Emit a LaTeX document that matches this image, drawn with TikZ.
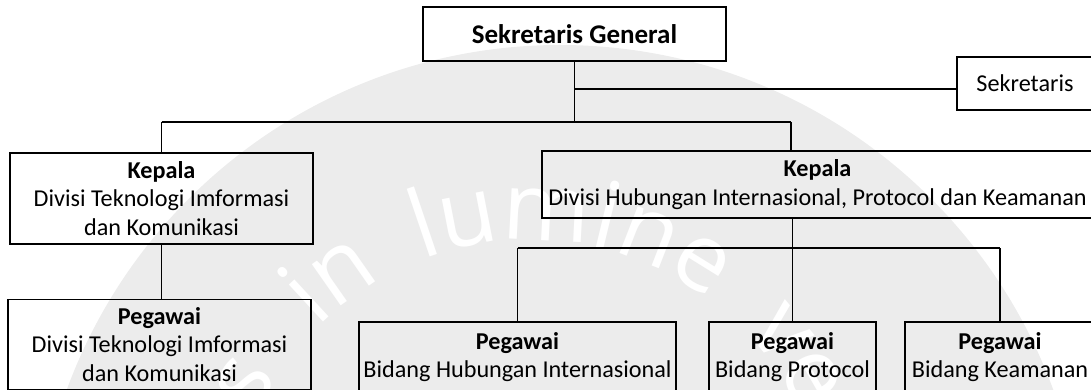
\documentclass[tikz,border=0pt]{standalone}
\usepackage{fontspec}
\setmainfont{Carlito}
\newfontfamily\wmfont{Open Sans}
\usetikzlibrary{decorations.text}
\definecolor{wmgray}{HTML}{ECECEC}

\begin{document}
\begin{tikzpicture}[x=1pt,y=-1pt,
  box/.style={draw, line width=1.6pt, inner sep=0pt, align=center,
    font=\fontsize{24.2}{28.5}\selectfont},
  link/.style={line width=1.6pt},
  wmtext/.style={decorate, decoration={text along path, text color=white,
    text={|\wmfont\fontsize{94}{94}\selectfont|#1}}},
]
\useasboundingbox (0,0) rectangle (1091,390);

% faint seal in the background
\fill[wmgray] (560,570) circle[radius=525];
\coordinate (wmc) at (530,540);
\path[wmtext=serviens, decoration={text align=right}]
  (wmc) ++(-250:300) arc[start angle=-250, end angle=-147, radius=300];
\path[wmtext=in] (wmc) ++(-135:300) arc[start angle=-135, end angle=-100, radius=300];
\path[wmtext=lumine] (wmc) ++(-111:300) arc[start angle=-111, end angle=-30, radius=300];
\path[wmtext=veritatis] (wmc) ++(-44:300) arc[start angle=-44, end angle=70, radius=300];

% boxes
\node[box, minimum width=303, minimum height=54, font=\fontsize{27}{30}\selectfont]
  (sg) at (574.5,34) {\textbf{Sekretaris General}};
\node[box, minimum width=136, minimum height=53] (sek) at (1025,83.5) {Sekretaris};
\node[box, minimum width=303, minimum height=91] (kl) at (161.5,198.5)
  {\textbf{Kepala}\\Divisi Teknologi Imformasi\\dan Komunikasi};
\node[box, minimum width=551, minimum height=67] (kr) at (817.5,184.5)
  {\textbf{Kepala}\\Divisi Hubungan Internasional, Protocol dan Keamanan};
\node[box, minimum width=303, minimum height=90] (pl) at (159.5,344.5)
  {\textbf{Pegawai}\\Divisi Teknologi Imformasi\\dan Komunikasi};
\node[box, minimum width=317, minimum height=70] (hi) at (517.5,357)
  {\textbf{Pegawai}\\Bidang Hubungan Internasional};
\node[box, minimum width=167, minimum height=70] (pp) at (792.5,357)
  {\textbf{Pegawai}\\Bidang Protocol};
\node[box, minimum width=190, minimum height=70] (ka) at (1000,357)
  {\textbf{Pegawai}\\Bidang Keamanan};

% junction points
\coordinate (busL) at (161.5,122);
\coordinate (busR) at (791,122);
\coordinate (sekj) at (574.5,89);
\coordinate (subL) at (517.5,248);
\coordinate (subR) at (1000,248);

% connectors
\draw[link] (sg.south) -- (sg.south |- busL);
\draw[link] (sekj) -- (sekj -| sek.west);
\draw[link] (busL) -- (busR);
\draw[link] (busL) -- (kl.north);
\draw[link] (busR) -- (busR |- kr.north);
\draw[link] (kl.south) -- (kl.south |- pl.north);
\draw[link] (pp.north |- kr.south) -- (pp.north);
\draw[link] (subL) -- (subR);
\draw[link] (subL) -- (hi.north);
\draw[link] (subR) -- (ka.north);
\end{tikzpicture}
\end{document}
